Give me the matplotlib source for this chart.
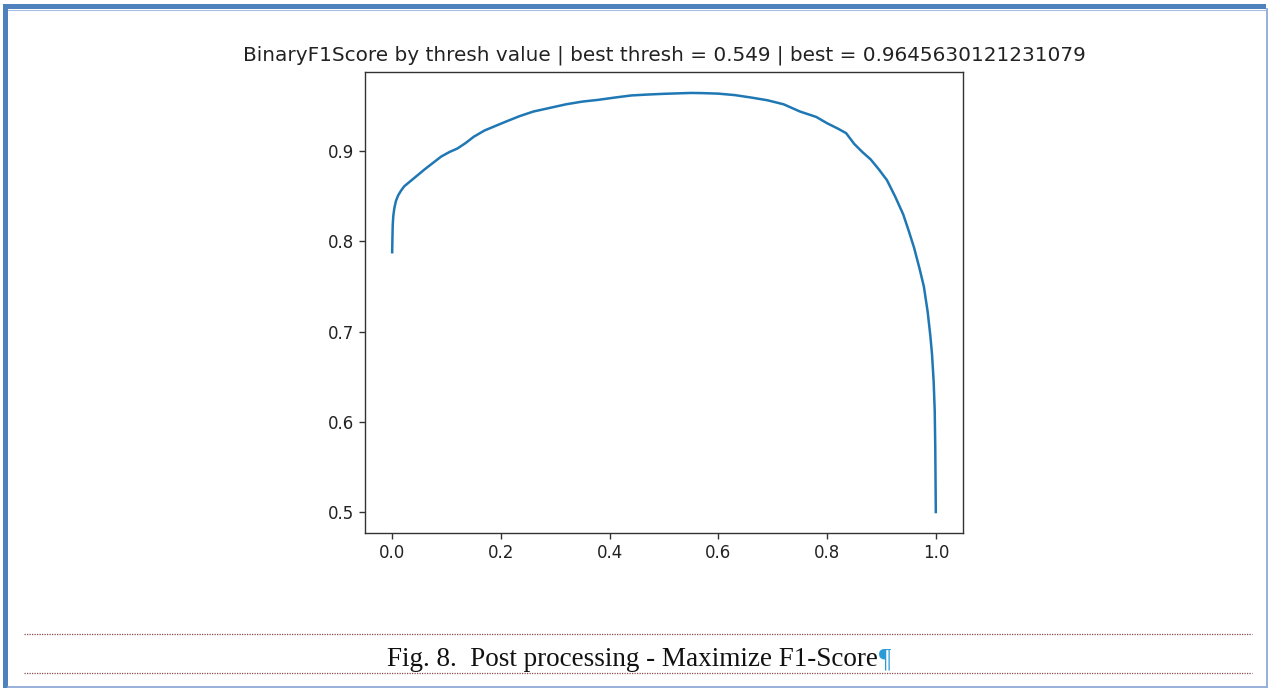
import matplotlib
matplotlib.use("Agg")
import matplotlib.pyplot as plt
from matplotlib.lines import Line2D
from matplotlib.patches import Rectangle

W, H = 1268, 688

# threshold sweep
thresh = [0.0, 0.0005, 0.001, 0.002, 0.004, 0.007, 0.011, 0.016, 0.022, 0.03,
          0.04, 0.05, 0.06, 0.075, 0.09, 0.105, 0.12, 0.135, 0.15, 0.17,
          0.19, 0.21, 0.235, 0.26, 0.29, 0.32, 0.35, 0.38, 0.41, 0.44,
          0.47, 0.5, 0.53, 0.549, 0.57, 0.6, 0.63, 0.66, 0.69, 0.72,
          0.75, 0.78, 0.8, 0.82, 0.835, 0.85, 0.865, 0.88, 0.895, 0.91,
          0.925, 0.94, 0.95, 0.96, 0.97, 0.978, 0.985, 0.99, 0.993, 0.996,
          0.998, 0.999, 1.0]
f1 = [0.788, 0.805, 0.818, 0.828, 0.837, 0.845, 0.851, 0.856, 0.861, 0.865,
      0.870, 0.875, 0.880, 0.887, 0.894, 0.899, 0.903, 0.909, 0.916, 0.923,
      0.928, 0.933, 0.939, 0.944, 0.948, 0.952, 0.955, 0.957, 0.9595, 0.9618,
      0.9628, 0.9636, 0.9642, 0.96456, 0.9644, 0.9638, 0.9622, 0.9595, 0.9565, 0.952,
      0.944, 0.938, 0.931, 0.925, 0.920, 0.908, 0.899, 0.891, 0.880, 0.868,
      0.850, 0.830, 0.812, 0.793, 0.770, 0.750, 0.722, 0.695, 0.675, 0.645,
      0.612, 0.570, 0.500]

best_thresh = 0.549
best_score = 0.9645630121231079
caption = "Fig. 8.  Post processing - Maximize F1-Score"


def fx(px):
    return px / W


def fy(py):
    return 1 - py / H


fig = plt.figure(figsize=(W / 100, H / 100), dpi=100)

# plot area
ax = fig.add_axes([fx(365), fy(533), fx(963) - fx(365), fy(72) - fy(533)])
ax.plot(thresh, f1, color="#1f77b4", linewidth=1.8)
ax.set_xticks([0.0, 0.2, 0.4, 0.6, 0.8, 1.0])
ax.set_yticks([0.5, 0.6, 0.7, 0.8, 0.9])
ax.tick_params(labelsize=12, length=4.2, width=1, colors="#333333", labelcolor="#222222")
for s in ax.spines.values():
    s.set_linewidth(1)
    s.set_color("#333333")
ax.set_title(f"BinaryF1Score by thresh value | best thresh = {best_thresh} | best = {best_score}",
             fontsize=14.4, color="#222222", pad=8)

# document frame
fig.add_artist(Rectangle((fx(3), fy(9)), fx(1266) - fx(3), fy(4) - fy(9),
                         transform=fig.transFigure, color="#4f81bd", lw=0))
fig.add_artist(Rectangle((fx(3), fy(688)), fx(8) - fx(3), fy(4) - fy(688),
                         transform=fig.transFigure, color="#4f81bd", lw=0))
fig.add_artist(Line2D([fx(8), fx(1266)], [fy(9.5), fy(9.5)], color="#a7bfe0", lw=0.8))
fig.add_artist(Line2D([fx(1266.5), fx(1266.5)], [fy(9), fy(688)], color="#8eaad6", lw=1.3))
fig.add_artist(Line2D([fx(8), fx(1266)], [fy(687), fy(687)], color="#8eaad6", lw=1.3))

# dotted rules around the caption
for py in (634, 673):
    fig.add_artist(Line2D([fx(24), fx(1252)], [fy(py), fy(py)], color="#8b4a4a",
                          lw=0.9, linestyle=(0, (1, 1))))

fig.text(fx(878), fy(666), caption, ha="right", va="baseline",
         fontsize=19.5, family="Liberation Serif", color="#111111")
fig.text(fx(879), fy(666), "\u00b6", ha="left", va="baseline",
         fontsize=19.5, family="Liberation Serif", color="#2b9bd8")

fig.savefig("out.png", dpi=100)
